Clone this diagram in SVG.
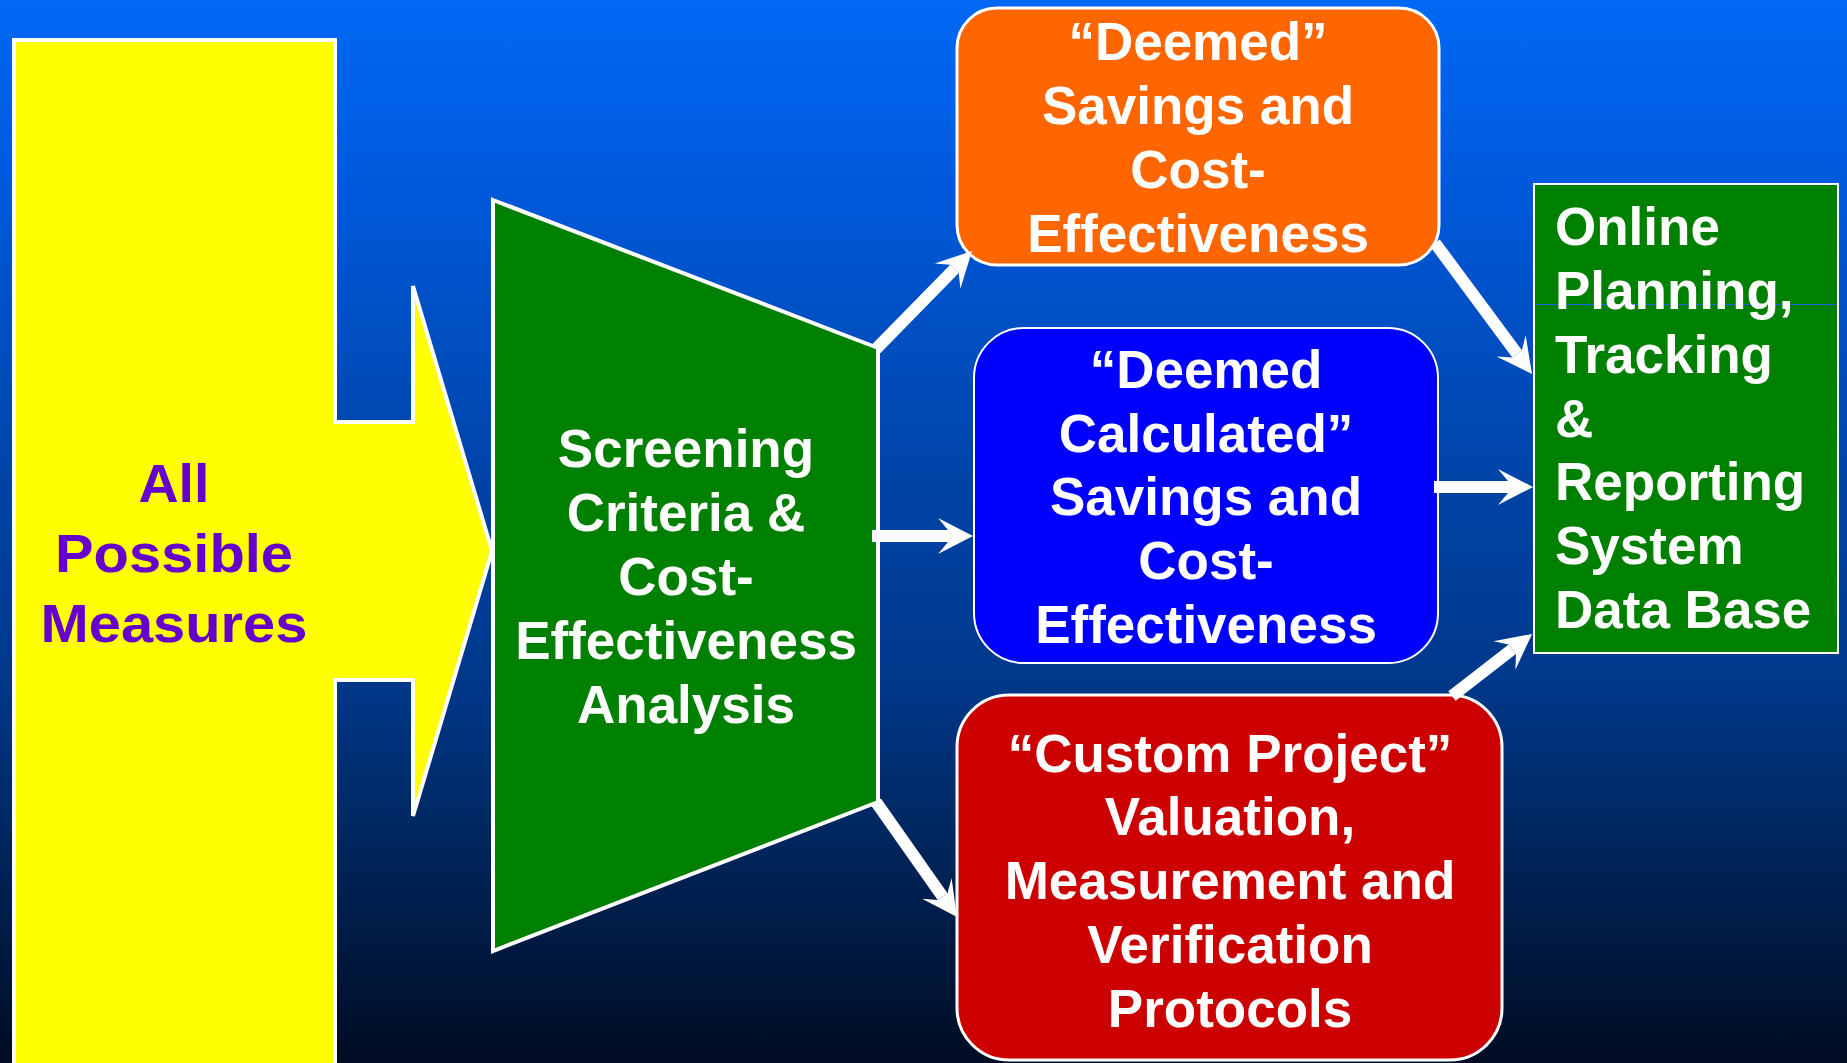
<svg xmlns="http://www.w3.org/2000/svg" width="1847" height="1063" viewBox="0 0 1847 1063">
<defs>
<linearGradient id="bg" x1="0" y1="0" x2="0" y2="1">
<stop offset="0" stop-color="#0068f4"/>
<stop offset="0.15" stop-color="#005be0"/>
<stop offset="0.46" stop-color="#0043a6"/>
<stop offset="0.64" stop-color="#00388a"/>
<stop offset="0.82" stop-color="#002255"/>
<stop offset="1" stop-color="#000c22"/>
</linearGradient>
<marker id="ah" markerUnits="userSpaceOnUse" markerWidth="40" markerHeight="40" viewBox="0 -20 40 40" refX="10" refY="0" orient="auto">
<path d="M0,-18 L35,0 L0,18 L10,6 L10,-6 Z" fill="#fff"/>
</marker>
<style>
.t{font-family:"Liberation Sans",Arial,sans-serif;font-weight:bold;font-size:53px;fill:#fff;text-anchor:middle}
.tl{font-family:"Liberation Sans",Arial,sans-serif;font-weight:bold;font-size:53px;fill:#fff}
.tp{font-family:"Liberation Sans",Arial,sans-serif;font-weight:bold;font-size:54px;fill:#6600cc;text-anchor:middle}
.c{stroke:#fff;stroke-width:12;fill:none;marker-end:url(#ah)}
</style>
</defs>
<rect x="0" y="0" width="1847" height="1063" fill="url(#bg)"/>

<g id="all-measures">
<polygon points="14,40 335,40 335,422 413,422 413,286 492,551 413,816 413,680 335,680 335,1075 14,1075" fill="#ffff00" stroke="#fff" stroke-width="4"/>
<text class="tp" x="174" y="502" textLength="71" lengthAdjust="spacingAndGlyphs">All</text>
<text class="tp" x="174" y="572" textLength="238" lengthAdjust="spacingAndGlyphs">Possible</text>
<text class="tp" x="174" y="642" textLength="267" lengthAdjust="spacingAndGlyphs">Measures</text>
</g>

<g id="screening">
<polygon points="493,200 878,348 878,802 493,951" fill="#008000" stroke="#fff" stroke-width="4"/>
<text class="t" x="686" y="467">Screening</text>
<text class="t" x="686" y="531">Criteria &amp;</text>
<text class="t" x="686" y="595">Cost-</text>
<text class="t" x="686" y="659">Effectiveness</text>
<text class="t" x="686" y="723">Analysis</text>
</g>

<g id="deemed">
<rect x="957" y="8" width="482" height="257" rx="40" ry="40" fill="#ff6600" stroke="#fff" stroke-width="3"/>
<text class="t" x="1198" y="60">“Deemed”</text>
<text class="t" x="1198" y="124">Savings and</text>
<text class="t" x="1198" y="188">Cost-</text>
<text class="t" x="1198" y="252">Effectiveness</text>
</g>

<g id="deemed-calculated">
<rect x="974" y="328" width="464" height="335" rx="50" ry="50" fill="#0000ff" stroke="#fff" stroke-width="2"/>
<text class="t" x="1206" y="388">“Deemed</text>
<text class="t" x="1206" y="452">Calculated”</text>
<text class="t" x="1206" y="515">Savings and</text>
<text class="t" x="1206" y="579">Cost-</text>
<text class="t" x="1206" y="643">Effectiveness</text>
</g>

<g id="custom-project">
<rect x="957" y="695" width="545" height="365" rx="52" ry="52" fill="#cc0000" stroke="#fff" stroke-width="3"/>
<text class="t" x="1230" y="772">“Custom Project”</text>
<text class="t" x="1230" y="835">Valuation,</text>
<text class="t" x="1230" y="899">Measurement and</text>
<text class="t" x="1230" y="963">Verification</text>
<text class="t" x="1230" y="1027">Protocols</text>
</g>

<g id="online-system">
<rect x="1534" y="184" width="304" height="469" fill="#008000" stroke="#fff" stroke-width="2"/>
<line x1="1535" y1="304.5" x2="1837" y2="304.5" stroke="#1f5fe0" stroke-width="1"/>
<text class="tl" x="1555" y="245">Online</text>
<text class="tl" x="1555" y="309">Planning,</text>
<text class="tl" x="1555" y="373">Tracking</text>
<text class="tl" x="1555" y="437">&amp;</text>
<text class="tl" x="1555" y="500">Reporting</text>
<text class="tl" x="1555" y="564">System</text>
<text class="tl" x="1555" y="628">Data Base</text>
</g>

<g id="connectors">
<line class="c" x1="876" y1="349" x2="954.5" y2="268.9"/>
<line class="c" x1="872" y1="536" x2="948" y2="536"/>
<line class="c" x1="876" y1="802" x2="942.6" y2="896.6"/>
<line class="c" x1="1435" y1="243" x2="1517.1" y2="353.9"/>
<line class="c" x1="1434" y1="487" x2="1508" y2="487"/>
<line class="c" x1="1452" y1="696" x2="1512.3" y2="649.3"/>
</g>
</svg>
